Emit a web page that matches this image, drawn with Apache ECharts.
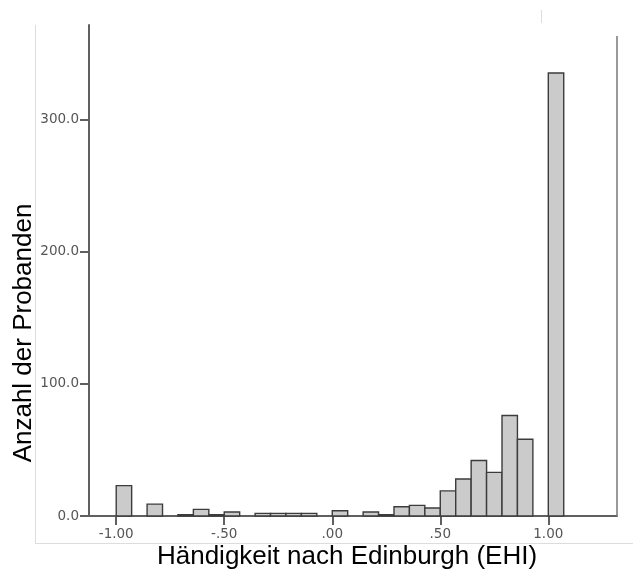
<!DOCTYPE html>
<html>
<head>
<meta charset="utf-8">
<script src="https://cdn.jsdelivr.net/npm/echarts@6/dist/echarts.min.js"></script>
<style>
html,body{margin:0;padding:0;background:#fff;}
#chart{width:633px;height:570px;}
</style>
</head>
<body>
<div id="chart"></div>
<script>
// Histogram: bins of width 1/14 starting at -1.00
const binStart = -1;
const binWidth = 1 / 14;
const counts = [23, 0, 9, 0, 1, 5, 1, 3, 0, 2, 2, 2, 2, 0, 4, 0, 3, 1, 7, 8, 6, 19, 28, 42, 33, 76, 58, 0, 335];
const xTickValues = [-1, -0.5, 0, 0.5, 1];
const xTickLabels = ['-1.00', '-.50', '.00', '.50', '1.00'];
const yTickValues = [0, 100, 200, 300];
const yTickLabels = ['0.0', '100.0', '200.0', '300.0'];
const xTitle = 'Händigkeit nach Edinburgh (EHI)';
const yTitle = 'Anzahl der Probanden';

const xMin = -1.126, xMax = 1.318;
const yMin = 0, yMax = 371.3;

const binData = counts.map((c, i) => [binStart + i * binWidth, binStart + (i + 1) * binWidth, c]);

const chart = echarts.init(document.getElementById('chart'), null, {renderer: 'canvas'});
const labelStyle = {color: '#555', fontFamily: 'DejaVu Sans', fontSize: 13.5};

chart.setOption({
  animation: false,
  backgroundColor: '#fff',
  grid: {left: 89, right: 16, top: 25, bottom: 54, containLabel: false},
  xAxis: {
    type: 'value', min: xMin, max: xMax,
    axisLine: {show: true, onZero: false, lineStyle: {color: '#606060', width: 2}},
    axisTick: {show: true, length: 9, customValues: xTickValues, lineStyle: {color: '#606060', width: 2}},
    axisLabel: Object.assign({
      margin: 11,
      customValues: xTickValues,
      formatter: v => xTickLabels[xTickValues.indexOf(Math.round(v * 100) / 100)]
    }, labelStyle),
    splitLine: {show: false}
  },
  yAxis: {
    type: 'value', min: yMin, max: yMax,
    axisLine: {show: true, onZero: false, lineStyle: {color: '#606060', width: 2}},
    axisTick: {show: true, length: 9, customValues: yTickValues, lineStyle: {color: '#606060', width: 2}},
    axisLabel: Object.assign({
      margin: 10,
      customValues: yTickValues,
      formatter: v => yTickLabels[yTickValues.indexOf(Math.round(v))]
    }, labelStyle),
    splitLine: {show: false}
  },
  series: [{
    type: 'custom',
    data: binData,
    encode: {x: [0, 1], y: 2},
    z: 3,
    renderItem: function (params, api) {
      const c = api.value(2);
      if (!c) return null;
      const p0 = api.coord([api.value(0), c]);
      const p1 = api.coord([api.value(1), 0]);
      return {
        type: 'rect',
        shape: {x: p0[0], y: p0[1], width: p1[0] - p0[0], height: p1[1] - p0[1]},
        style: {fill: '#cbcbcb', stroke: '#3c3c3c', lineWidth: 1.4}
      };
    }
  }]
});

const pBR = chart.convertToPixel({gridIndex: 0}, [xMax, 0]);
const pTR = chart.convertToPixel({gridIndex: 0}, [xMax, 363]);
chart.setOption({
  graphic: [
    {type: 'line', shape: {x1: pBR[0], y1: pBR[1], x2: pTR[0], y2: pTR[1]}, style: {stroke: '#777', lineWidth: 1.5}, z: 5},
    {type: 'line', shape: {x1: 35.5, y1: 25, x2: 35.5, y2: 544}, style: {stroke: '#dddddd', lineWidth: 1}, z: 1},
    {type: 'line', shape: {x1: 35.5, y1: 543.5, x2: 633, y2: 543.5}, style: {stroke: '#dddddd', lineWidth: 1}, z: 1},
    {type: 'line', shape: {x1: 541.5, y1: 10, x2: 541.5, y2: 23}, style: {stroke: '#dddddd', lineWidth: 1}, z: 1},
    {type: 'text', x: 347, y: 557, z: 10,
     style: {text: xTitle, font: '26px "Liberation Sans", Arial, sans-serif', fill: '#000', align: 'center', verticalAlign: 'middle', textAlign: 'center', textVerticalAlign: 'middle'}},
    {type: 'text', x: 24, y: 333, rotation: Math.PI / 2, z: 10,
     style: {text: yTitle, font: '26px "Liberation Sans", Arial, sans-serif', fill: '#000', align: 'center', verticalAlign: 'middle', textAlign: 'center', textVerticalAlign: 'middle'}}
  ]
});
</script>
</body>
</html>
